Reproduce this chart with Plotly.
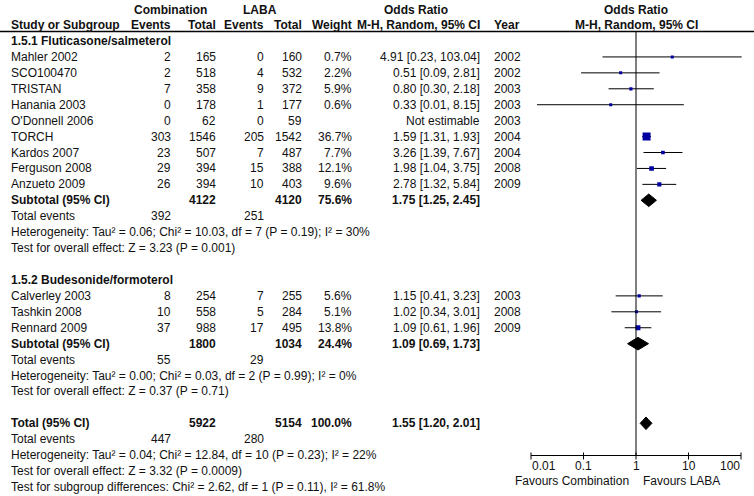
import plotly.graph_objects as go
import numpy as np

# ---------------- data ----------------
g1_studies = ["Mahler 2002", "SCO100470", "TRISTAN", "Hanania 2003", "O'Donnell 2006",
              "TORCH", "Kardos 2007", "Ferguson 2008", "Anzueto 2009"]
g1_comb_events = [2, 2, 7, 0, 0, 303, 23, 29, 26]
g1_comb_total = [165, 518, 358, 178, 62, 1546, 507, 394, 394]
g1_laba_events = [0, 4, 9, 1, 0, 205, 7, 15, 10]
g1_laba_total = [160, 532, 372, 177, 59, 1542, 487, 388, 403]
g1_weight = [0.7, 2.2, 5.9, 0.6, None, 36.7, 7.7, 12.1, 9.6]
g1_or = [4.91, 0.51, 0.80, 0.33, None, 1.59, 3.26, 1.98, 2.78]
g1_lo = [0.23, 0.09, 0.30, 0.013, None, 1.31, 1.39, 1.04, 1.32]
g1_hi = [103.04, 2.81, 2.18, 8.15, None, 1.93, 7.67, 3.75, 5.84]
g1_year = [2002, 2002, 2003, 2003, 2003, 2004, 2004, 2008, 2009]

g2_studies = ["Calverley 2003", "Tashkin 2008", "Rennard 2009"]
g2_comb_events = [8, 10, 37]
g2_comb_total = [254, 558, 988]
g2_laba_events = [7, 5, 17]
g2_laba_total = [255, 284, 495]
g2_weight = [5.6, 5.1, 13.8]
g2_or = [1.15, 1.02, 1.09]
g2_lo = [0.41, 0.34, 0.61]
g2_hi = [3.23, 3.01, 1.96]
g2_year = [2003, 2008, 2009]

# subtotals: [group1, group2, overall]
sub_labels = ["Subtotal (95% CI)", "Subtotal (95% CI)", "Total (95% CI)"]
sub_comb_total = [4122, 1800, 5922]
sub_laba_total = [4120, 1034, 5154]
sub_weight = [75.6, 24.4, 100.0]
sub_or = [1.75, 1.09, 1.55]
sub_lo = [1.25, 0.69, 1.20]
sub_hi = [2.45, 1.73, 2.01]
sub_comb_events = [392, 55, 447]
sub_laba_events = [251, 29, 280]
sub_het = ["Heterogeneity: Tau² = 0.06; Chi² = 10.03, df = 7 (P = 0.19); I² = 30%",
           "Heterogeneity: Tau² = 0.00; Chi² = 0.03, df = 2 (P = 0.99); I² = 0%",
           "Heterogeneity: Tau² = 0.04; Chi² = 12.84, df = 10 (P = 0.23); I² = 22%"]
sub_test = ["Test for overall effect: Z = 3.23 (P = 0.001)",
            "Test for overall effect: Z = 0.37 (P = 0.71)",
            "Test for overall effect: Z = 3.32 (P = 0.0009)"]
subgroup_test = "Test for subgroup differences: Chi² = 2.62, df = 1 (P = 0.11), I² = 61.8%"
group_titles = ["1.5.1 Fluticasone/salmeterol", "1.5.2 Budesonide/formoterol"]

tick_vals = [0.01, 0.1, 1, 10, 100]
tick_text = ["0.01", "0.1", "1", "10", "100"]
favours = ["Favours Combination", "Favours LABA"]

# ---------------- layout constants ----------------
W, H = 754, 496
FONT = "Liberation Sans, Arial, sans-serif"
TXT = "#111111"
BLUE = "#0000A0"
FS = 12
ROW0, DY = 41.0, 15.93


def ry(k):
    return ROW0 + DY * k


X_STUDY, X_CE, X_CT, X_LE, X_LT, X_W, X_OR, X_YR = 10, 172, 217, 265, 303, 353, 481, 493

ann = []


def txt(x, y, s, anchor="left", bold=False, size=FS, xref="paper"):
    ann.append(dict(x=x / W if xref == "paper" else x, y=y, xref=xref, yref="y",
                    text=f"<b>{s}</b>" if bold else s,
                    xanchor=anchor, yanchor="middle", showarrow=False,
                    borderpad=0, font=dict(size=size, family=FONT, color=TXT)))


# headers
txt(170, 9.5, "Combination", "center", True)
txt(260, 9.5, "LABA", "center", True)
txt(416, 9.5, "Odds Ratio", "center", True)
txt(636, 9.5, "Odds Ratio", "center", True)
txt(X_STUDY, 25, "Study or Subgroup", "left", True)
txt(X_CE, 25, "Events", "right", True)
txt(X_CT, 25, "Total", "right", True)
txt(X_LE, 25, "Events", "right", True)
txt(X_LT, 25, "Total", "right", True)
txt(X_W, 25, "Weight", "right", True)
txt(X_OR, 25, "M-H, Random, 95% CI", "right", True)
txt(X_YR, 25, "Year", "left", True)
txt(636, 25, "M-H, Random, 95% CI", "center", True)

fig = go.Figure()

groups = [
    (g1_studies, g1_comb_events, g1_comb_total, g1_laba_events, g1_laba_total,
     g1_weight, g1_or, g1_lo, g1_hi, g1_year),
    (g2_studies, g2_comb_events, g2_comb_total, g2_laba_events, g2_laba_total,
     g2_weight, g2_or, g2_lo, g2_hi, g2_year),
]

row = 0
sub_rows = []
for gi, g in enumerate(groups):
    st, ce, ct, le, lt, wt, orv, lo, hi, yr = g
    txt(X_STUDY, ry(row), group_titles[gi], "left", True)
    row += 1
    for i in range(len(st)):
        y = ry(row)
        txt(X_STUDY, y, st[i])
        txt(X_CE, y, str(ce[i]), "right")
        txt(X_CT, y, str(ct[i]), "right")
        txt(X_LE, y, str(le[i]), "right")
        txt(X_LT, y, str(lt[i]), "right")
        if wt[i] is not None:
            txt(X_W, y, f"{wt[i]:.1f}%", "right")
        if orv[i] is not None:
            txt(X_OR, y, f"{orv[i]:.2f} [{lo[i]:.2f}, {hi[i]:.2f}]", "right")
            fig.add_trace(go.Scatter(x=[lo[i], hi[i]], y=[y, y], mode="lines",
                                     line=dict(color="black", width=1), hoverinfo="skip"))
            size = max(3.0, 8.0 * np.sqrt(wt[i] / 36.7))
            fig.add_trace(go.Scatter(x=[orv[i]], y=[y], mode="markers",
                                     marker=dict(symbol="square", size=size, color=BLUE,
                                                 line=dict(width=0)), hoverinfo="skip"))
        else:
            txt(X_OR, y, "Not estimable", "right")
        txt(X_YR, y, str(yr[i]))
        row += 1
    sub_rows.append(row)
    row += 5

# overall total row
sub_rows.append(row)

for si in range(3):
    r = sub_rows[si]
    y = ry(r)
    txt(X_STUDY, y, sub_labels[si], "left", True)
    txt(X_CT, y, str(sub_comb_total[si]), "right", True)
    txt(X_LT, y, str(sub_laba_total[si]), "right", True)
    txt(X_W, y, f"{sub_weight[si]:.1f}%", "right", True)
    txt(X_OR, y, f"{sub_or[si]:.2f} [{sub_lo[si]:.2f}, {sub_hi[si]:.2f}]", "right", True)
    txt(X_STUDY, ry(r + 1), "Total events")
    txt(X_CE, ry(r + 1), str(sub_comb_events[si]), "right")
    txt(X_LE, ry(r + 1), str(sub_laba_events[si]), "right")
    txt(X_STUDY, ry(r + 2), sub_het[si])
    txt(X_STUDY, ry(r + 3), sub_test[si])
    hh = 6.3
    fig.add_trace(go.Scatter(x=[sub_lo[si], sub_or[si], sub_hi[si], sub_or[si], sub_lo[si]],
                             y=[y, y - hh, y, y + hh, y], mode="lines", fill="toself",
                             fillcolor="black", line=dict(color="black", width=1),
                             hoverinfo="skip"))
txt(X_STUDY, ry(sub_rows[2] + 4), subgroup_test)

# null line
AX_Y = 455.5
fig.add_trace(go.Scatter(x=[1, 1], y=[32, AX_Y], mode="lines",
                         line=dict(color="black", width=1), hoverinfo="skip"))
# axis line + ticks
fig.add_trace(go.Scatter(x=[tick_vals[0], tick_vals[-1]], y=[AX_Y, AX_Y], mode="lines",
                         line=dict(color="black", width=1), hoverinfo="skip"))
tx, ty = [], []
for v in tick_vals:
    tx += [v, v, None]
    ty += [AX_Y - 3, AX_Y + 4, None]
fig.add_trace(go.Scatter(x=tx, y=ty, mode="lines", line=dict(color="black", width=1),
                         hoverinfo="skip"))
for j, (v, t) in enumerate(zip(tick_vals, tick_text)):
    anchor = "left" if j == 0 else ("right" if j == len(tick_vals) - 1 else "center")
    txt(np.log10(v), 466, t, anchor, xref="x")

txt(630, 481, favours[0], "right")
txt(642, 481, favours[1], "left")

# header rule
shapes = [dict(type="line", xref="paper", yref="y", x0=0, x1=1, y0=31.5, y1=31.5,
               line=dict(color="black", width=1.5))]

fig.update_layout(
    width=W, height=H, margin=dict(l=0, r=0, t=0, b=0),
    paper_bgcolor="white", plot_bgcolor="white", showlegend=False,
    annotations=ann, shapes=shapes,
    xaxis=dict(type="log", range=[-2.1, 2.1], domain=[525.75 / W, 746.25 / W],
               visible=False, fixedrange=True),
    yaxis=dict(range=[H, 0], domain=[0, 1], visible=False, fixedrange=True),
)

fig.write_html("out.html", config={"displayModeBar": False},
               post_script="document.body.style.margin='0';document.body.style.padding='0';document.body.style.overflow='hidden';")
